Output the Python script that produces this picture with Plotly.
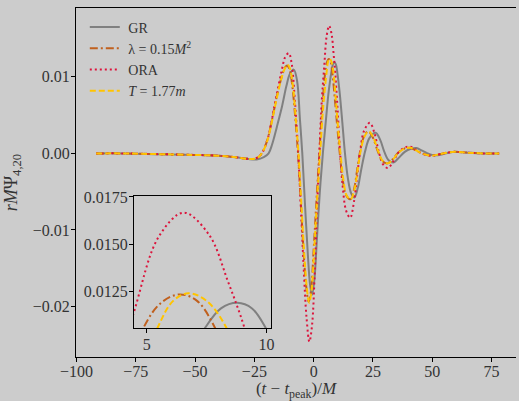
import plotly.graph_objects as go

# Waveform samples: (t - t_peak)/M and r M Psi_{4,20}
t_gr = [-91.7, -80, -65, -50, -40, -33, -28, -24, -21, -19, -17.5, -15.5, -13.3, -11.5, -10, -8.4,
        -7, -5.8, -4.8, -3.6, -2.4, -1.5, -0.7, 0.3, 1.4, 2.6, 4.0, 5.2, 6.3, 7.4, 8.1, 8.78, 9.4,
        10.0, 11.0, 12.1, 13.2, 14.4, 15.8, 17.2, 18.6, 20.0, 21.7, 23.5, 26.1, 28.0, 29.8, 31.6,
        33.5, 35.5, 38.4, 41, 43.3, 45.5, 48, 50, 53, 58.6, 65, 72, 78.2]
psi_gr = [0.0000, 0.0000, -0.0001, -0.0002, -0.0003, -0.0005, -0.0007, -0.0008, -0.0005, 0.0000,
          0.0012, 0.0035, 0.0062, 0.0088, 0.0104, 0.01095, 0.0095, 0.0045, 0.0000, -0.0070,
          -0.0135, -0.0172, -0.0185, -0.0165, -0.0110, -0.0050, 0.0005, 0.0045, 0.0080, 0.0105,
          0.0116, 0.0119, 0.0116, 0.0105, 0.0078, 0.0040, 0.0000, -0.0032, -0.0052, -0.00575,
          -0.0045, -0.0022, 0.0003, 0.0020, 0.0027, 0.0018, 0.0002, -0.0009, -0.0012, -0.0007,
          0.0002, 0.0006, 0.0007, 0.0004, 0.0000, -0.0002, -0.0002, 0.0002, 0.0001, 0.0000, 0.0000]

t_lam = [-91.7, -80, -65, -50, -40, -33, -28, -25, -23, -21.5, -19.5, -17.5, -15.5, -13.5, -12.2,
         -11.2, -10.2, -9.0, -7.8, -6.6, -5.5, -4.3, -3.2, -2.1, -1.1, 0.0, 1.2, 2.4, 3.6, 4.83,
         5.6, 6.36, 7.1, 7.88, 8.9, 10.0, 11.0, 12.2, 13.6, 15.4, 17.0, 18.4, 19.6, 21.2, 23.0,
         24.9, 27.0, 29.0, 31.1, 33.2, 35.6, 38.0, 40.5, 43.0, 45.5, 49.6, 53, 58.6, 65, 72, 78.2]
psi_lam = [0.0000, 0.0000, -0.0001, -0.0002, -0.0003, -0.0005, -0.0007, -0.0007, -0.0004, 0.0002,
           0.0018, 0.0045, 0.0075, 0.0100, 0.0112, 0.0115, 0.0110, 0.0088, 0.0048, 0.0000,
           -0.0060, -0.0125, -0.0172, -0.0194, -0.0178, -0.0125, -0.0060, 0.0000, 0.0058, 0.0105,
           0.0119, 0.01234, 0.0120, 0.0105, 0.0072, 0.0033, 0.0000, -0.0033, -0.0054, -0.0060,
           -0.0047, -0.0020, 0.0003, 0.0022, 0.0029, 0.0021, 0.0003, -0.0010, -0.0013, -0.0008,
           0.0001, 0.0006, 0.00075, 0.0004, 0.0000, -0.0003, -0.0001, 0.0002, 0.0001, 0.0000, 0.0000]

t_ora = [-91.7, -80, -65, -50, -40, -33, -28, -25, -23, -21.5, -19.5, -17.5, -15.5, -13.5, -12.0,
         -10.5, -9.3, -8.0, -6.6, -5.4, -4.2, -3.0, -1.8, -0.7, 0.4, 1.4, 2.4, 3.4, 4.46, 5.5,
         6.54, 7.6, 8.4, 9.1, 10.0, 11.0, 12.2, 13.7, 15.4, 17.0, 18.4, 19.6, 21.3, 23.7, 25.6,
         27.3, 29.2, 31.3, 33.4, 35.7, 38.1, 40.5, 43.0, 45.6, 49.6, 53, 58.6, 65, 72, 78.2]
psi_ora = [0.0000, 0.0000, -0.0001, -0.0002, -0.0003, -0.0005, -0.0007, -0.0007, -0.0004, 0.0002,
           0.0018, 0.0046, 0.0078, 0.0108, 0.0126, 0.0131, 0.0118, 0.0072, 0.0005, -0.0070,
           -0.0150, -0.0215, -0.0246, -0.0225, -0.0160, -0.0075, 0.0000, 0.0068, 0.0114, 0.0154,
           0.01667, 0.0155, 0.0130, 0.0105, 0.0062, 0.0008, -0.0042, -0.0075, -0.0084, -0.0063,
           -0.0028, 0.0003, 0.0030, 0.0040, 0.0027, 0.0004, -0.0014, -0.0019, -0.0011, 0.0001,
           0.0007, 0.0009, 0.0005, 0.0000, -0.0003, -0.0001, 0.0002, 0.0001, 0.0000, 0.0000]

t_T = [-91.7, -80, -65, -50, -40, -33, -28, -25, -23, -21.5, -19.5, -17.5, -15.5, -13.5, -12.0,
       -11.0, -10.0, -8.8, -7.6, -6.4, -5.3, -4.1, -3.0, -1.9, -0.9, 0.2, 1.4, 2.7, 4.0, 5.42,
       6.1, 6.74, 7.5, 8.36, 9.3, 10.3, 11.3, 12.5, 13.9, 15.6, 17.2, 18.6, 19.8, 21.4, 23.2,
       25.1, 27.2, 29.2, 31.3, 33.4, 35.8, 38.2, 40.7, 43.2, 45.7, 49.8, 53, 58.6, 65, 72, 78.2]
psi_T = [0.0000, 0.0000, -0.0001, -0.0002, -0.0003, -0.0005, -0.0007, -0.0007, -0.0004, 0.0002,
         0.0017, 0.0043, 0.0073, 0.0099, 0.0112, 0.0116, 0.0111, 0.0089, 0.0048, 0.0000,
         -0.0060, -0.0125, -0.0172, -0.0195, -0.0179, -0.0127, -0.0062, 0.0000, 0.0060, 0.0105,
         0.0120, 0.0124, 0.0120, 0.0105, 0.0072, 0.0033, 0.0000, -0.0034, -0.0055, -0.0060,
         -0.0047, -0.0020, 0.0003, 0.0022, 0.0029, 0.0021, 0.0003, -0.0010, -0.0013, -0.0008,
         0.0001, 0.0006, 0.00075, 0.0004, 0.0000, -0.0003, -0.0001, 0.0002, 0.0001, 0.0000, 0.0000]

names = ["GR", "λ = 0.15<i>M</i><sup>2</sup>", "ORA", "<i>T</i> = 1.77<i>m</i>"]

x_ticks = [-100, -75, -50, -25, 0, 25, 50, 75]
y_ticks = [-0.02, -0.01, 0.0, 0.01]
y_ticktext = ["−0.02", "−0.01", "0.00", "0.01"]
inset_x_ticks = [5, 10]
inset_y_ticks = [0.0125, 0.0150, 0.0175]
inset_y_ticktext = ["0.0125", "0.0150", "0.0175"]

BG = "#cccccc"
FONT = "Liberation Serif"

styles = [
    dict(color="rgba(120,120,120,0.9)", width=2, dash="solid"),
    dict(color="#c0601e", width=2, dash="8px,3px,2px,3px"),
    dict(color="#dc143c", width=2, dash="2px,3px"),
    dict(color="#ffc400", width=2, dash="6px,3px"),
]
series = [(t_gr, psi_gr), (t_lam, psi_lam), (t_ora, psi_ora), (t_T, psi_T)]

fig = go.Figure()
for (tx, ty), name, st in zip(series, names, styles):
    fig.add_trace(go.Scatter(x=tx, y=ty, mode="lines", name="&nbsp;" + name,
                             line=dict(shape="spline", **st), xaxis="x", yaxis="y"))
for (tx, ty), name, st in zip(series, names, styles):
    fig.add_trace(go.Scatter(x=tx, y=ty, mode="lines", name=name, showlegend=False,
                             line=dict(shape="spline", **st), xaxis="x2", yaxis="y2"))

axis_common = dict(showgrid=False, zeroline=False, showline=True, linecolor="black", linewidth=1,
                   ticks="outside", ticklen=4, tickcolor="black", tickwidth=1)

fig.update_layout(
    width=519, height=401,
    margin=dict(l=76, r=0, t=6, b=44),
    paper_bgcolor=BG, plot_bgcolor=BG,
    font=dict(family=FONT, size=16, color="#333333"),
    xaxis=dict(domain=[0, 1], range=[-100.2, 85.3], tickvals=x_ticks, mirror=True,
               ticklabelstandoff=-4,
               title=dict(text="(<i>t</i> − <i>t</i><sub>peak</sub>)/<i>M</i>", standoff=3,
                          font=dict(size=17)),
               **axis_common),
    yaxis=dict(domain=[0, 1], range=[-0.0266, 0.0190], tickvals=y_ticks, ticktext=y_ticktext,
               ticklabelstandoff=-2,
               title=dict(text="<i>rM</i>Ψ<sub>4,20</sub>", standoff=10, font=dict(size=18)),
               **axis_common),
    xaxis2=dict(domain=[0.1316, 0.4431], anchor="y2", range=[4.46, 10.19], tickvals=inset_x_ticks,
                mirror=True, ticklabelstandoff=-3, **axis_common),
    yaxis2=dict(domain=[0.0818, 0.4607], anchor="x2", range=[0.01054, 0.01754],
                tickvals=inset_y_ticks, ticktext=inset_y_ticktext, mirror=True,
                ticklabelstandoff=-2, **axis_common),
    legend=dict(x=0.02, y=0.99, xanchor="left", yanchor="top", bgcolor="rgba(0,0,0,0)",
                font=dict(size=14, family=FONT), tracegroupgap=0),
    showlegend=True,
)

fig.write_html("out.html")
